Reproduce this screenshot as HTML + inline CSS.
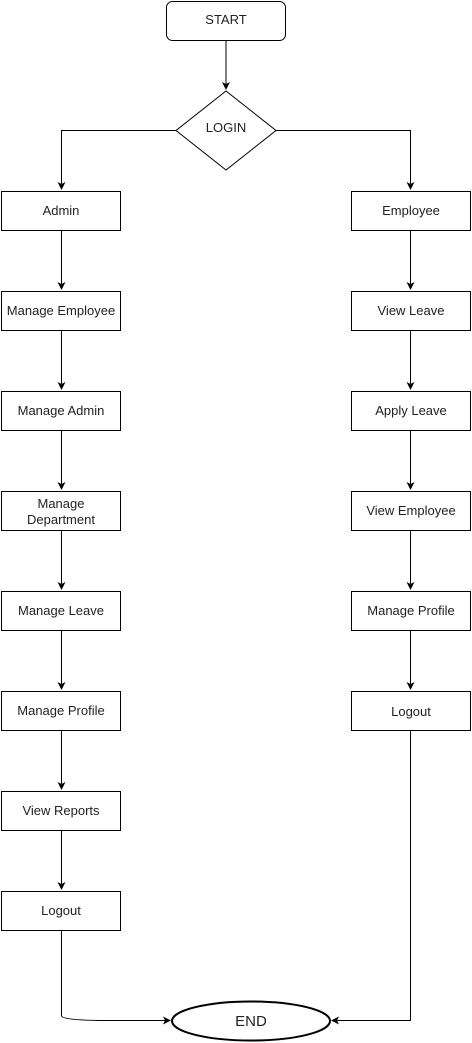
<!DOCTYPE html>
<html><head><meta charset="utf-8"><style>
html,body{margin:0;padding:0;background:#fff;}
svg{display:block;}
text{font-family:"Liberation Sans",sans-serif;font-size:13px;fill:#222;text-anchor:middle;}
</style></head><body>
<svg width="472" height="1043" viewBox="0 0 472 1043" xmlns="http://www.w3.org/2000/svg">
<defs><marker id="a" markerWidth="8" markerHeight="8" refX="7" refY="4" orient="auto" markerUnits="userSpaceOnUse"><path d="M0,0 L8,4 L0,8 L2,4 Z" fill="#000"/></marker></defs>
<g fill="none" stroke="#000" stroke-width="1">
<rect x="166.5" y="1.5" width="119" height="39" rx="6"/>
<path d="M226,91 L276,130.5 L226,170 L176,130.5 Z"/>
<line x1="226" y1="41" x2="226" y2="89" marker-end="url(#a)"/>
<path d="M176,130.5 H61.5 V189" marker-end="url(#a)"/>
<path d="M276,130.5 H410.5 V189" marker-end="url(#a)"/>
<rect x="1.5" y="191.5" width="119" height="39"/>
<rect x="1.5" y="291.5" width="119" height="39"/>
<rect x="1.5" y="391.5" width="119" height="39"/>
<rect x="1.5" y="491.5" width="119" height="39"/>
<rect x="1.5" y="591.5" width="119" height="39"/>
<rect x="1.5" y="691.5" width="119" height="39"/>
<rect x="1.5" y="791.5" width="119" height="39"/>
<rect x="1.5" y="891.5" width="119" height="39"/>
<line x1="61.5" y1="231" x2="61.5" y2="289" marker-end="url(#a)"/>
<line x1="61.5" y1="331" x2="61.5" y2="389" marker-end="url(#a)"/>
<line x1="61.5" y1="431" x2="61.5" y2="489" marker-end="url(#a)"/>
<line x1="61.5" y1="531" x2="61.5" y2="589" marker-end="url(#a)"/>
<line x1="61.5" y1="631" x2="61.5" y2="689" marker-end="url(#a)"/>
<line x1="61.5" y1="731" x2="61.5" y2="789" marker-end="url(#a)"/>
<line x1="61.5" y1="831" x2="61.5" y2="889" marker-end="url(#a)"/>
<path d="M61.5,931 V1016 Q63,1020 100,1020.5 H170" marker-end="url(#a)"/>
<rect x="351.5" y="191.5" width="119" height="39"/>
<rect x="351.5" y="291.5" width="119" height="39"/>
<rect x="351.5" y="391.5" width="119" height="39"/>
<rect x="351.5" y="491.5" width="119" height="39"/>
<rect x="351.5" y="591.5" width="119" height="39"/>
<rect x="351.5" y="691.5" width="119" height="39"/>
<line x1="410.5" y1="231" x2="410.5" y2="289" marker-end="url(#a)"/>
<line x1="410.5" y1="331" x2="410.5" y2="389" marker-end="url(#a)"/>
<line x1="410.5" y1="431" x2="410.5" y2="489" marker-end="url(#a)"/>
<line x1="410.5" y1="531" x2="410.5" y2="589" marker-end="url(#a)"/>
<line x1="410.5" y1="631" x2="410.5" y2="689" marker-end="url(#a)"/>
<path d="M410.5,731 V1020.5 H332" marker-end="url(#a)"/>
<ellipse cx="251" cy="1021" rx="79" ry="19.5" stroke-width="2"/>
</g>
<text x="226" y="24">START</text>
<text x="226" y="132">LOGIN</text>
<text x="61" y="215">Admin</text>
<text x="61" y="315">Manage Employee</text>
<text x="61" y="415">Manage Admin</text>
<text x="61" y="508">Manage</text>
<text x="61" y="524">Department</text>
<text x="61" y="615">Manage Leave</text>
<text x="61" y="715">Manage Profile</text>
<text x="61" y="815">View Reports</text>
<text x="61" y="915">Logout</text>
<text x="411" y="215">Employee</text>
<text x="411" y="315">View Leave</text>
<text x="411" y="415">Apply Leave</text>
<text x="411" y="515">View Employee</text>
<text x="411" y="615">Manage Profile</text>
<text x="411" y="716">Logout</text>
<text x="251" y="1026" style="font-size:15px">END</text>
</svg>
</body></html>
